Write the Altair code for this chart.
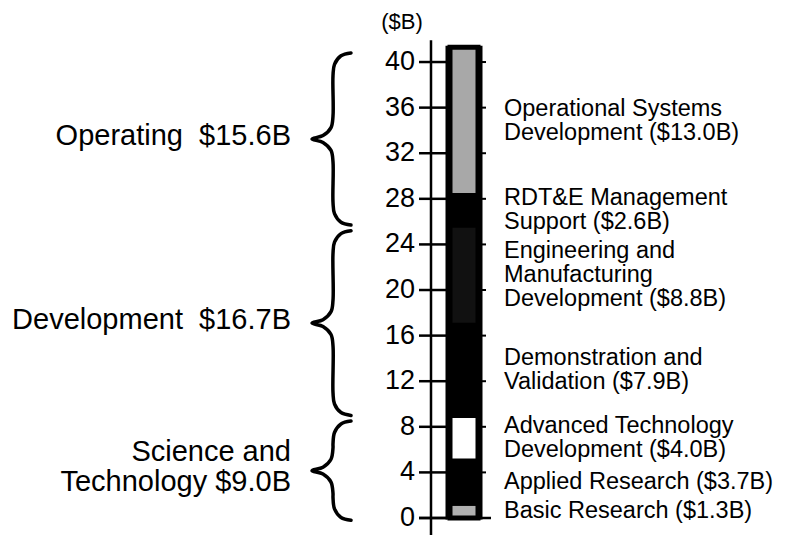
import altair as alt
import pandas as pd

# ---------------- data ----------------
categories = [
    "Basic Research",
    "Applied Research",
    "Advanced Technology Development",
    "Demonstration and Validation",
    "Engineering and Manufacturing Development",
    "RDT&E Management Support",
    "Operational Systems Development",
]
values = [1.3, 3.7, 4.0, 7.9, 8.8, 2.6, 13.0]
seg_labels = [
    "Basic Research ($1.3B)",
    "Applied Research ($3.7B)",
    "Advanced Technology\nDevelopment ($4.0B)",
    "Demonstration and\nValidation ($7.9B)",
    "Engineering and\nManufacturing\nDevelopment ($8.8B)",
    "RDT&E Management\nSupport ($2.6B)",
    "Operational Systems\nDevelopment ($13.0B)",
]
seg_colors = ["#b0b0b0", "#000000", "#ffffff", "#000000", "#111111", "#000000", "#a8a8a8"]
group_labels = ["Science and\nTechnology $9.0B", "Development\u00a0 $16.7B", "Operating\u00a0 $15.6B"]
group_sizes = [3, 2, 2]
tick_values = [0, 4, 8, 12, 16, 20, 24, 28, 32, 36, 40]
unit_label = "($B)"

# ---------------- layout constants ----------------
FONT = "Liberation Sans"
W, H = 773, 510
YMAX = 44.74
PPU = H / YMAX            # pixels per data unit
SEG_LH = 24               # line height, segment labels
GRP_LH = 30               # line height, group labels

# ---------------- derived tables ----------------
starts, ends = [], []
acc = 0.0
for v in values:
    starts.append(acc)
    acc += v
    ends.append(acc)
total = acc

def block_anchor(center, text, lh):
    # Vega puts the first line at y; shift so the whole block is centred
    n = text.count("\n")
    return center + n * lh / 2 / PPU

seg = pd.DataFrame({
    "cat": categories,
    "start": starts,
    "end": ends,
    "label": seg_labels,
})
seg["ty"] = [block_anchor((s + e) / 2, t, SEG_LH) for s, e, t in zip(starts, ends, seg_labels)]
tot_df = pd.DataFrame({"start": [0.0], "end": [total]})

g_lo, g_hi = [], []
i0 = 0
for n in group_sizes:
    g_lo.append(starts[i0])
    g_hi.append(ends[i0 + n - 1])
    i0 += n

# brace shapes (x in pixels relative to brace spine, y in data units)
SPINE = 325
brace_shape = [  # (dx px, which end, dy units)
    (18, "top", 0.0), (8, "top", -0.25), (1.5, "top", -1.0), (0, "top", -2.0),
    (0, "mid", 2.0), (-2, "mid", 1.0), (-10, "mid", 0.3), (-21, "mid", 0.0),
    (-10, "mid", -0.3), (-2, "mid", -1.0), (0, "mid", -2.0),
    (0, "bot", 2.0), (1.5, "bot", 1.0), (8, "bot", 0.25), (18, "bot", 0.0),
]
brows = []
glab_rows = []
for gi, (lo, hi, lab) in enumerate(zip(g_lo, g_hi, group_labels)):
    top = hi - 0.5
    bot = lo - 0.2 if gi == 0 else lo
    mid = (top + bot) / 2
    ref = {"top": top, "mid": mid, "bot": bot}
    for k, (dx, which, dy) in enumerate(brace_shape):
        brows.append({"g": gi, "i": k, "bx": SPINE + dx, "by": ref[which] + dy})
    glab_rows.append({"label": lab, "y": block_anchor((lo + hi) / 2, lab, GRP_LH)})
brace_df = pd.DataFrame(brows)
glab_df = pd.DataFrame(glab_rows)

tick_df = pd.DataFrame({"v": tick_values})
zero_df = pd.DataFrame({"v": tick_values[:1]})
rt_df = pd.DataFrame({"v": tick_values[1:]})
axis_df = pd.DataFrame({"a": [41.9], "b": [-1.6]})

# ---------------- chart ----------------
yscale = alt.Scale(domain=[0, YMAX], nice=False, zero=False)
xscale = alt.Scale(domain=[0, W], nice=False, zero=False)

def Y(f):
    return alt.Y(f, scale=yscale, axis=None)

BAR_L, BAR_R = 439, 473

backing = alt.Chart(tot_df).mark_rect(color="black", stroke="black", strokeWidth=3).encode(
    x=alt.value(BAR_L), x2=alt.value(BAR_R), y=Y("start:Q"), y2="end:Q"
)

segments = alt.Chart(seg).mark_rect(stroke="black", strokeWidth=5).encode(
    x=alt.value(BAR_L + 3), x2=alt.value(BAR_R - 3),
    y=Y("start:Q"), y2="end:Q",
    color=alt.Color("cat:N", scale=alt.Scale(domain=categories, range=seg_colors), legend=None),
)

axis_line = alt.Chart(axis_df).mark_rule(color="black", strokeWidth=2.5).encode(
    x=alt.value(423), y=Y("a:Q"), y2="b:Q"
)

ticks = alt.Chart(tick_df).mark_rule(color="black", strokeWidth=2.5).encode(
    x=alt.value(411), x2=alt.value(BAR_L), y=Y("v:Q")
)
zero_tick = alt.Chart(zero_df).mark_rule(color="black", strokeWidth=2.5).encode(
    x=alt.value(411), x2=alt.value(483), y=Y("v:Q")
)
right_ticks = alt.Chart(rt_df).mark_rule(color="black", strokeWidth=2).encode(
    x=alt.value(BAR_R), x2=alt.value(BAR_R + 5), y=Y("v:Q")
)

tick_labels = alt.Chart(tick_df).mark_text(
    align="right", baseline="middle", fontSize=27, font=FONT, color="black"
).encode(x=alt.value(407), y=Y("v:Q"), text=alt.Text("v:Q", format="d"))

unit = alt.Chart(zero_df).mark_text(
    align="center", baseline="middle", fontSize=22, font=FONT, color="black", text=unit_label
).encode(x=alt.value(394), y=alt.value(14))

braces = alt.Chart(brace_df).mark_line(
    color="black", strokeWidth=3.5, interpolate="catmull-rom", strokeCap="round", strokeJoin="round"
).encode(
    x=alt.X("bx:Q", scale=xscale, axis=None),
    y=Y("by:Q"),
    detail="g:N",
    order=alt.Order("i:Q"),
)

group_text = alt.Chart(glab_df).mark_text(
    align="right", baseline="middle", fontSize=29, font=FONT, color="black",
    lineBreak="\n", lineHeight=GRP_LH,
).encode(x=alt.value(283), y=Y("y:Q"), text="label:N")

seg_text = alt.Chart(seg).mark_text(
    align="left", baseline="middle", fontSize=23.5, font=FONT, color="black",
    lineBreak="\n", lineHeight=SEG_LH,
).encode(x=alt.value(496), y=Y("ty:Q"), text="label:N")

chart = alt.layer(
    backing, segments, axis_line, ticks, zero_tick, right_ticks,
    tick_labels, unit, braces, group_text, seg_text,
).properties(
    width=W, height=H,
    autosize=alt.AutoSizeParams(type="none"),
    padding={"left": 0, "top": 0, "right": 0, "bottom": 17},
    background="white",
).configure_view(stroke=None)

chart.save("out.html", embed_options={"renderer": "svg", "actions": False})
